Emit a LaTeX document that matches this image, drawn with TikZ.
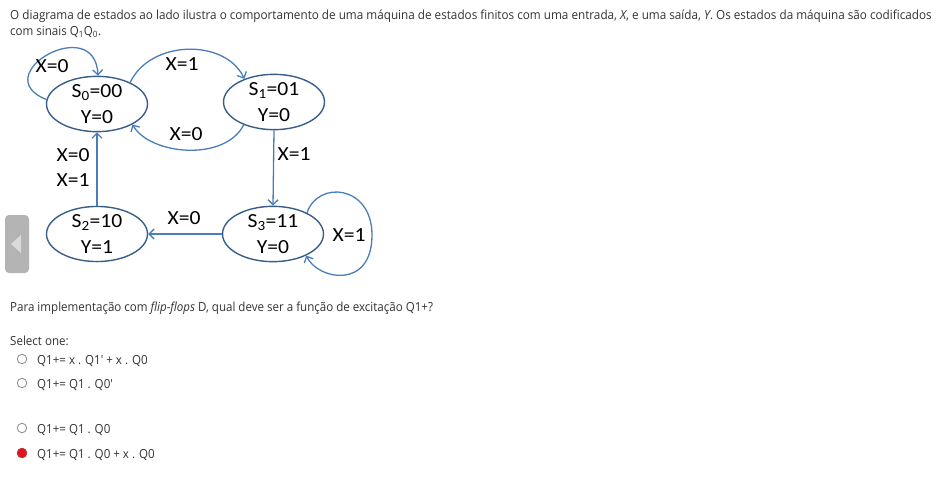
\documentclass[tikz,border=0pt]{standalone}
\usepackage{fontspec}
\setmainfont{Open Sans}
\newfontfamily\diagramfont{Carlito}
\usepackage{graphicx}
\usetikzlibrary{positioning, shapes.geometric, arrows.meta}

\definecolor{pagetext}{HTML}{333333}
\definecolor{stateline}{HTML}{385D8A}
\definecolor{arrowblue}{HTML}{4A7EBB}
\definecolor{radioedge}{HTML}{8C8C8C}
\definecolor{radiored}{HTML}{E3141B}
\definecolor{slidergray}{HTML}{B4B4B4}
\definecolor{sliderarrow}{HTML}{DADADA}

\newcommand{\stretchx}[1]{\scalebox{1.08}[1]{#1}}
\newcommand{\squeezex}[1]{\scalebox{0.925}[1]{#1}}

\begin{document}
\begin{tikzpicture}[x=1pt, y=-1pt,
    state/.style={ellipse, draw=stateline, line width=1.4pt, minimum width=101pt,
                  minimum height=55pt, inner sep=0pt, align=center,
                  font=\diagramfont\fontsize{20}{26}\selectfont},
    trans/.style={draw=arrowblue, line width=1.3pt, -{Straight Barb[length=5pt, width=10pt]}},
    cond/.style={font=\diagramfont\fontsize{20}{24}\selectfont, inner sep=0pt},
    pagetxt/.style={font=\fontsize{12.5}{15}\selectfont, text=pagetext, anchor=base west, inner sep=0pt},
    radio/.style={circle, draw=radioedge, line width=0.8pt, minimum size=9.5pt, inner sep=0pt}]

    % page
    \fill[white] (0,0) rectangle (938,477);
    \useasboundingbox (0,0) rectangle (938,477);

    % question text
    \node[pagetxt] (intro1) at (10,19) {\scalebox{0.937}[1]{O diagrama de estados ao lado ilustra o comportamento de uma máquina de estados finitos com uma entrada, \textit{X}, e uma saída, \textit{Y}. Os estados da máquina são codificados}};
    \node[pagetxt] (intro2) at (10,35) {\squeezex{com sinais Q\textsubscript{1}Q\textsubscript{0}.}};

    % slider button on the left
    \fill[slidergray, rounded corners=4pt] (5,215) rectangle (29,273);
    \fill[sliderarrow] (11,244) -- (21,235) -- (21,253) -- cycle;

    % states
    \node[state] (s0) at (97,104) {\stretchx{S\textsubscript{0}=00}\\\stretchx{Y=0}};
    \node[state] (s1) at (274,102) {\stretchx{S\textsubscript{1}=01}\\\stretchx{Y=0}};
    \node[state] (s2) at (97,234) {\stretchx{S\textsubscript{2}=10}\\\stretchx{Y=1}};
    \node[state] (s3) at (273,234) {\stretchx{S\textsubscript{3}=11}\\\stretchx{Y=0}};

    % transitions
    \draw[trans] (s0.175) .. controls (-15,75) and (95,12) .. (s0.88);
    \draw[trans] (s0.33) .. controls (150,40) and (225,38) .. (s1.142);
    \draw[trans] (s1.-143) .. controls (225,162) and (150,155) .. (s0.-30);
    \draw[trans] (s1.south) -- (s3.north);
    \draw[trans] (s3.west) -- (s2.east);
    \draw[trans] (s2.north) -- (s0.south);
    \draw[trans] (s3.32) .. controls (318,180) and (372,185) .. (372,235)
                 .. controls (372,290) and (318,280) .. (s3.-33);

    % conditions
    \node[cond] (c00) at (52,66) {\stretchx{X=0}};
    \node[cond] (c01) at (182,64) {\stretchx{X=1}};
    \node[cond] (c10) at (186,134) {\stretchx{X=0}};
    \node[cond] (c13) at (294,154) {\stretchx{X=1}};
    \node[cond] (c20a) at (73,155) {\stretchx{X=0}};
    \node[cond] (c20b) at (73,180) {\stretchx{X=1}};
    \node[cond] (c32) at (184,218) {\stretchx{X=0}};
    \node[cond] (c33) at (349,235) {\stretchx{X=1}};

    % question and answers
    \node[pagetxt] (ask) at (10,311.5) {\squeezex{Para implementação com \textit{flip-flops} D, qual deve ser a função de excitação Q1+?}};
    \node[pagetxt] (select) at (10,345) {\squeezex{Select one:}};
    \foreach \i/\yy/\opt in {1/359/{Q1+= x . Q1\textquotesingle{} + x . Q0},
                             2/383/{Q1+= Q1 . Q0\textquotesingle},
                             3/428/{Q1+= Q1 . Q0},
                             4/453/{Q1+= Q1 . Q0 + x . Q0}}{
        \node[radio] (radio\i) at (22,\yy) {};
        \node[pagetxt] (opt\i) at (37,\yy+5) {\squeezex{\opt}};
    }
    \node[radio, fill=radiored, draw=radiored!70!gray] (chosen) at (radio4) {};
\end{tikzpicture}
\end{document}
